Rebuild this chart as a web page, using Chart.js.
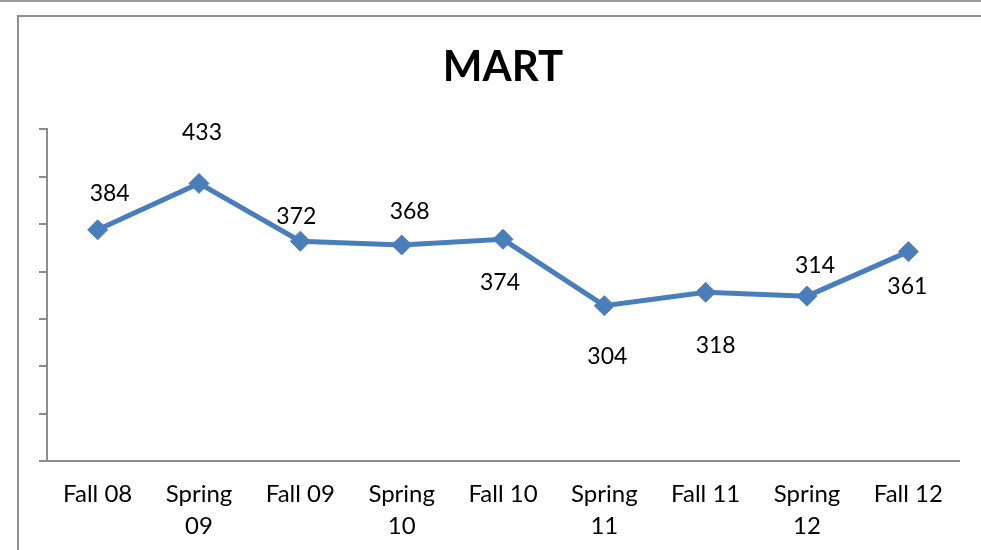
<!DOCTYPE html>
<html>
<head>
<meta charset="utf-8">
<script src="https://cdn.jsdelivr.net/npm/chart.js@4"></script>
<style>
  html, body { margin: 0; padding: 0; background: #fff; overflow: hidden; }
  #wrap { position: relative; width: 981px; height: 550px; overflow: hidden; }
  #topline { position: absolute; left: 0; top: 0; width: 981px; height: 2px; background: #9a9a9a; }
  #box { position: absolute; left: 17px; top: 15px; width: 1000px; height: 600px; border: 2px solid #8f8f8f; box-sizing: border-box; }
  #c { position: absolute; left: 0; top: 0; }
</style>
</head>
<body>
<div id="wrap">
  <div id="topline"></div>
  <div id="box"></div>
  <canvas id="c" width="981" height="560"></canvas>
</div>
<script>
const categories = [['Fall 08'], ['Spring', '09'], ['Fall 09'], ['Spring', '10'], ['Fall 10'], ['Spring', '11'], ['Fall 11'], ['Spring', '12'], ['Fall 12']];
const martValues = [384, 433, 372, 368, 374, 304, 318, 314, 361];
const chartTitle = 'MART';
const yMin = 140, yMax = 490, yStep = 50;

const FONT = 'Lato, "Noto Sans", sans-serif';

// manual label offsets (px, relative to each point), as in the source chart
const labelOffsets = [[12, -36], [3, -51], [-4, -25], [8, -33], [-3, 43], [3, 51], [10, 53], [8, -31], [-1, 35]];

const valueLabels = {
  id: 'valueLabels',
  afterDatasetsDraw(chart) {
    const ctx = chart.ctx;
    const meta = chart.getDatasetMeta(0);
    const data = chart.data.datasets[0].data;
    ctx.save();
    ctx.font = '23px ' + FONT;
    ctx.fillStyle = '#000';
    ctx.textAlign = 'center';
    ctx.textBaseline = 'middle';
    meta.data.forEach((pt, i) => {
      const off = labelOffsets[i] || [0, -30];
      ctx.fillText(String(data[i]), pt.x + off[0], pt.y + off[1]);
    });
    ctx.restore();
  }
};

new Chart(document.getElementById('c'), {
  type: 'line',
  data: {
    labels: categories,
    datasets: [{
      label: chartTitle,
      data: martValues,
      borderColor: '#4A7EBB',
      backgroundColor: '#4A7EBB',
      borderWidth: 5,
      pointStyle: 'rectRot',
      pointRadius: 10,
      pointBorderWidth: 1,
      pointBackgroundColor: '#4A7EBB',
      pointBorderColor: '#4A7EBB',
      tension: 0
    }]
  },
  options: {
    responsive: false,
    animation: false,
    devicePixelRatio: 1,
    layout: { padding: { left: 39, right: 22, top: 42, bottom: 1 } },
    plugins: {
      legend: { display: false },
      tooltip: { enabled: false },
      title: {
        display: true,
        fullSize: false,
        text: chartTitle,
        color: '#000',
        font: { family: FONT, size: 42, weight: 'bold' },
        padding: { top: 0, bottom: 37 }
      }
    },
    scales: {
      x: {
        offset: true,
        grid: { display: false, drawTicks: false },
        border: { display: true, color: '#8c8c8c', width: 2 },
        ticks: {
          color: '#000',
          font: { family: FONT, size: 24, lineHeight: 1.333 },
          padding: 17,
          maxRotation: 0,
          autoSkip: false
        }
      },
      y: {
        min: yMin,
        max: yMax,
        ticks: { display: false, stepSize: yStep },
        grid: { drawOnChartArea: false, drawTicks: true, tickLength: 8, color: '#8c8c8c', lineWidth: 2 },
        border: { display: true, color: '#8c8c8c', width: 2 }
      }
    }
  },
  plugins: [valueLabels]
});
</script>
</body>
</html>
